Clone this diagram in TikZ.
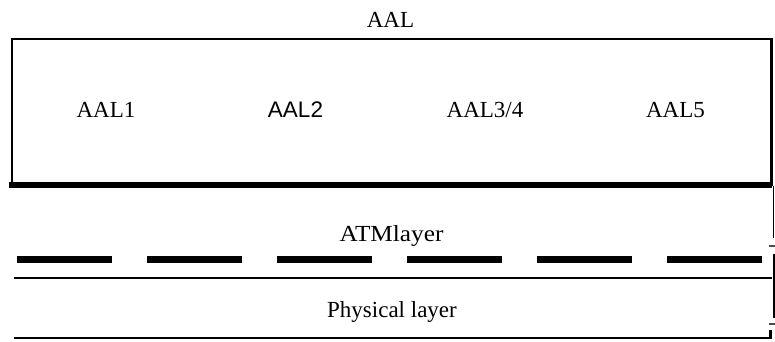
\documentclass[tikz,border=0pt]{standalone}
\usepackage{fontspec}
\setmainfont{Liberation Serif}
\newfontfamily\arialfont{Liberation Sans}
\begin{document}
\begin{tikzpicture}[x=1pt,y=-1pt,
  lbl/.style={inner sep=0pt,anchor=base,font=\fontsize{23}{26}\selectfont},
  thinrule/.style={line width=2pt},
  heavyrule/.style={line width=6pt},
  dashrule/.style={line width=7pt,dash pattern=on 95pt off 35pt}]
\useasboundingbox (0,0) rectangle (775,341);
% AAL box
\draw[thinrule] (11.5,38.5) -- (771,38.5);
\draw[thinrule] (11.5,38) -- (11.5,185);
\draw[heavyrule] (9,185) -- (772,185);
\draw[line width=3pt] (771,37.5) -- (771,186);
% right edge below
\draw[line width=1.5pt] (773.5,186) -- (773.5,238);
\draw[line width=1.2pt,black!70] (768.5,246) -- (775,246);
\draw[line width=1.5pt] (774,254) -- (774,318);
\draw[line width=1.2pt,black!70] (768.5,324) -- (775,324);
\draw[line width=3pt] (770,330) -- (770,339);
% layer rules
\draw[dashrule] (17,259.5) -- (762,259.5);
\draw[thinrule] (14,278) -- (772,278);
\draw[line width=2.5pt] (14,338) -- (771.5,338);
% labels
\node[lbl] (aal) at (390.5,27) {AAL};
\node[lbl] (aal1) at (106,117) {AAL1};
\node[lbl,font=\arialfont\fontsize{22.5}{26}\selectfont] (aal2) at (295.5,117) {AAL2};
\node[lbl] (aal34) at (485,117) {AAL3/4};
\node[lbl] (aal5) at (675.5,117) {AAL5};
\node[lbl,xscale=1.1] (atm) at (391.5,241) {ATMlayer};
\node[lbl] (phy) at (392,317) {Physical layer};
\end{tikzpicture}
\end{document}
